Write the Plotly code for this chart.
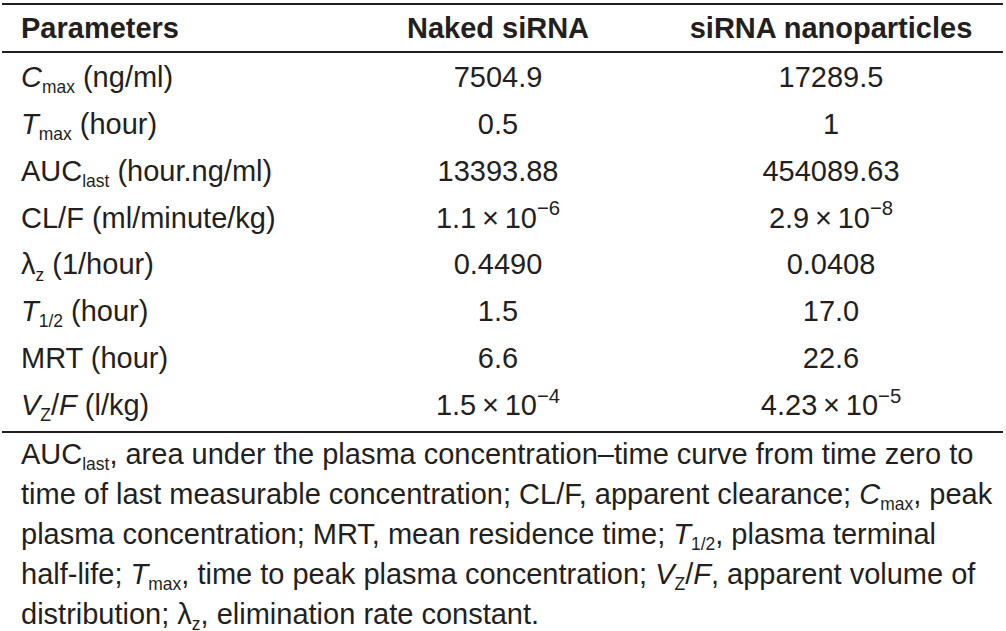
import plotly.graph_objects as go

# ---- table content ----
headers = ["Parameters", "Naked siRNA", "siRNA nanoparticles"]

SUB = '<sub><span style="font-size:86%">{}</span></sub>'

parameters = [
    "<i>C</i>" + SUB.format("max") + " (ng/ml)",
    "<i>T</i>" + SUB.format("max") + " (hour)",
    "AUC" + SUB.format("last") + " (hour.ng/ml)",
    "CL/F (ml/minute/kg)",
    "λ" + SUB.format("z") + " (1/hour)",
    "<i>T</i>" + SUB.format("1/2") + " (hour)",
    "MRT (hour)",
    "<i>V</i>" + SUB.format("Z") + "/<i>F</i> (l/kg)",
]

naked_sirna = [
    "7504.9",
    "0.5",
    "13393.88",
    "1.1\u2009×\u200910<sup>−6</sup>",
    "0.4490",
    "1.5",
    "6.6",
    "1.5\u2009×\u200910<sup>−4</sup>",
]

sirna_nanoparticles = [
    "17289.5",
    "1",
    "454089.63",
    "2.9\u2009×\u200910<sup>−8</sup>",
    "0.0408",
    "17.0",
    "22.6",
    "4.23\u2009×\u200910<sup>−5</sup>",
]

footnote_lines = [
    "AUC" + SUB.format("last") + ", area under the plasma concentration–time curve from time zero to",
    "time of last measurable concentration; CL/F, apparent clearance; <i>C</i>" + SUB.format("max") + ", peak",
    "plasma concentration; MRT, mean residence time; <i>T</i>" + SUB.format("1/2") + ", plasma terminal",
    "half-life; <i>T</i>" + SUB.format("max") + ", time to peak plasma concentration; <i>V</i>" + SUB.format("Z") + "/<i>F</i>, apparent volume of",
    "distribution; λ" + SUB.format("z") + ", elimination rate constant.",
]

# ---- layout constants ----
W, H = 1006, 631
FONT = "Liberation Sans, Arial, Helvetica, sans-serif"
INK = "#231f20"
FS = 29
X_LEFT = 21
X_COL1 = 498
X_COL2 = 831
Y_HEADER = 30.5
Y_ROW0 = 80
ROW_STEP = 46.8
Y_FOOT0 = 457
FOOT_STEP = 40.0
RULES = [4, 52, 432]

row_y = [Y_ROW0 + i * ROW_STEP for i in range(len(parameters))]
foot_y = [Y_FOOT0 + i * FOOT_STEP for i in range(len(footnote_lines))]

fig = go.Figure()

def text_trace(xs, ys, texts, pos, bold=False):
    fig.add_trace(go.Scatter(
        x=xs, y=ys, text=[f"<b>{t}</b>" if bold else t for t in texts],
        mode="text", textposition=pos,
        textfont=dict(family=FONT, size=FS, color=INK),
        hoverinfo="skip", showlegend=False,
    ))

# header
text_trace([X_LEFT], [Y_HEADER], [headers[0]], "middle right", bold=True)
text_trace([X_COL1], [Y_HEADER], [headers[1]], "middle center", bold=True)
text_trace([X_COL2], [Y_HEADER], [headers[2]], "middle center", bold=True)

# body
text_trace([X_LEFT] * len(parameters), row_y, parameters, "middle right")
text_trace([X_COL1] * len(naked_sirna), row_y, naked_sirna, "middle center")
text_trace([X_COL2] * len(sirna_nanoparticles), row_y, sirna_nanoparticles, "middle center")

# footnote
text_trace([X_LEFT] * len(footnote_lines), foot_y, footnote_lines, "middle right")

shapes = [
    dict(type="line", xref="x", yref="y", x0=2, x1=1003, y0=y, y1=y,
         line=dict(color=INK, width=2))
    for y in RULES
]

fig.update_layout(
    width=W, height=H,
    margin=dict(l=0, r=0, t=0, b=0),
    paper_bgcolor="white", plot_bgcolor="white",
    xaxis=dict(range=[0, W], visible=False, fixedrange=True),
    yaxis=dict(range=[H, 0], visible=False, fixedrange=True),
    shapes=shapes,
)

fig.write_html(
    "out.html",
    config={"displayModeBar": False, "staticPlot": True},
    post_script="document.body.style.margin='0px';document.body.style.overflow='hidden';",
)
